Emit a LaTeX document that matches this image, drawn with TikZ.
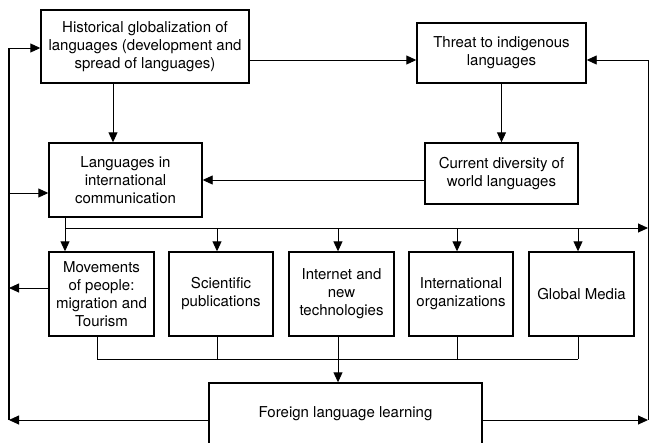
\documentclass[tikz,border=0pt]{standalone}
\usepackage{fontspec}
\setmainfont{TeX Gyre Heros}
\usetikzlibrary{arrows.meta}

\begin{document}
\begin{tikzpicture}[
    x=1pt, y=-1pt,
    every node/.style={font=\fontsize{15}{18}\selectfont},
    box/.style={draw, line width=1.4pt, align=center, inner sep=0pt},
    link/.style={line width=0.9pt},
    arr/.style={link, -{Triangle[length=10pt,width=9pt]}},
    rail/.style={line width=1.3pt}
]
\clip (0,0) rectangle (650,442);

% Upper boxes
\node[box, minimum width=208pt, minimum height=73pt] (hist) at (145,46.5)
    {Historical globalization of\\languages (development and\\spread of languages)};
\node[box, minimum width=169pt, minimum height=60pt] (threat) at (501.5,53)
    {Threat to indigenous\\languages};
\node[box, minimum width=153pt, minimum height=74pt] (lang) at (125.5,180)
    {Languages in\\international\\communication};
\node[box, minimum width=153pt, minimum height=61pt] (div) at (501.5,173.5)
    {Current diversity of\\world languages};

% Row of factors
\node[box, minimum width=105pt, minimum height=84pt] (move) at (101.5,294)
    {Movements\\of people:\\migration and\\Tourism};
\node[box, minimum width=104pt, minimum height=84pt] (sci) at (221,294)
    {Scientific\\publications};
\node[box, minimum width=105pt, minimum height=84pt] (inet) at (341.5,294)
    {Internet and\\new\\technologies};
\node[box, minimum width=104pt, minimum height=84pt] (intl) at (461,294)
    {International\\organizations};
\node[box, minimum width=105pt, minimum height=84pt] (media) at (581.5,294)
    {Global Media};

% Bottom box (cut by the page edge)
\node[box, minimum width=273pt, minimum height=62pt] (learn) at (345.5,414)
    {Foreign language learning};

% Rails and junctions
\coordinate (railL) at (9,48);
\coordinate (railR) at (648,60);
\coordinate (lrnY) at (0,420);
\coordinate (langY) at (0,193);
\coordinate (moveY) at (0,288);
\coordinate (bus) at (65,228);
\coordinate (c1) at (113,0);

% Top connections
\draw[arr] (hist.east |- railR) -- (threat.west |- railR);
\draw[arr] (railR) -- (threat.east |- railR);
\draw[arr] (hist.south -| c1) -- (lang.north -| c1);
\draw[arr] (threat.south) -- (div.north);
\draw[arr] (div.west |- lang.east) -- (lang.east);

% Left rail
\draw[rail] (railL |- lrnY) -- (railL);
\draw[arr] (railL) -- (hist.west |- railL);
\draw[arr] (railL |- langY) -- (lang.west |- langY);
\draw[arr] (move.west |- moveY) -- (railL |- moveY);
\draw[arr] (learn.west |- lrnY) -- (railL |- lrnY);

% Right rail
\draw[link] (railR) -- (railR |- lrnY);
\draw[arr] (learn.east |- lrnY) -- (railR |- lrnY);

% Bus into the factors
\draw[link] (lang.south -| bus) -- (bus);
\draw[arr] (bus) -- (bus -| railR);
\foreach \b/\t/\s in {move/65/97, sci/217/217, inet/338/338, intl/457/457, media/578/578} {
    \coordinate (t) at (\t,228);
    \coordinate (s) at (\s,359);
    \draw[arr] (t) -- (\b.north -| t);
    \draw[link] (\b.south -| s) -- (s);
}

% Collector to learning
\coordinate (sink) at (338,359);
\draw[link] (97,359) -- (578,359);
\draw[arr] (sink) -- (learn.north -| sink);
\end{tikzpicture}
\end{document}
